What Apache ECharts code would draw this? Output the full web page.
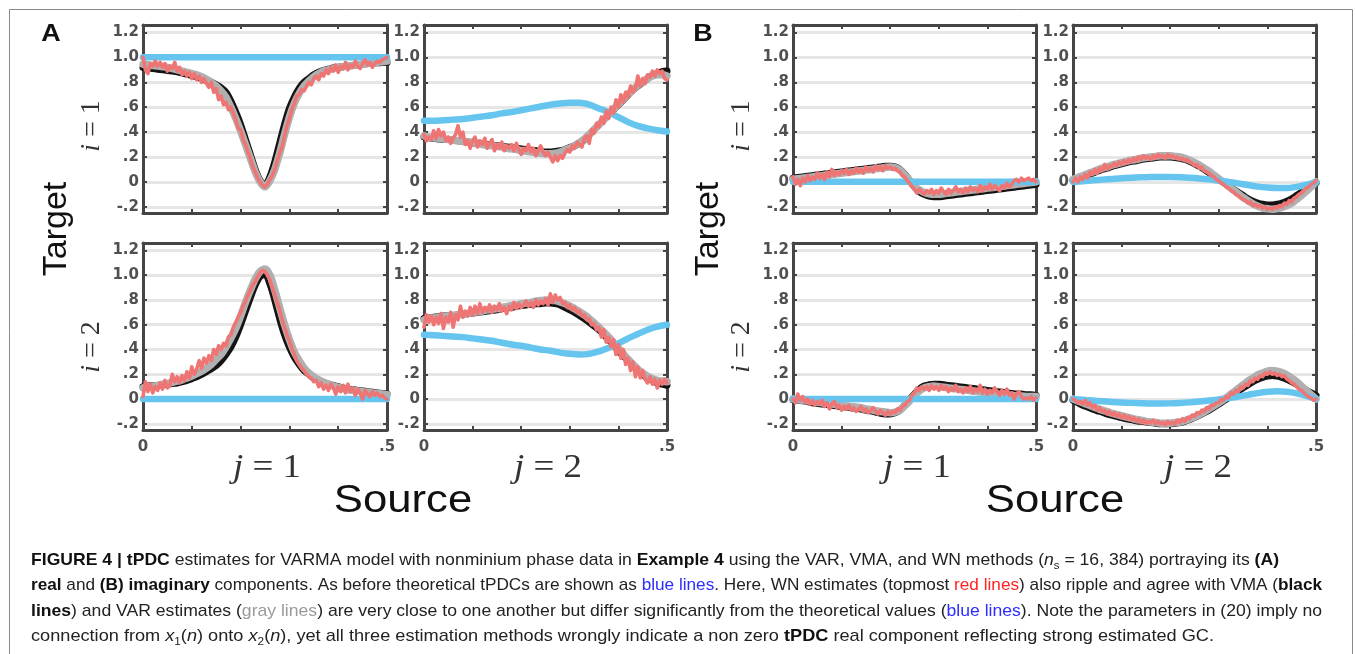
<!DOCTYPE html>
<html><head><meta charset="utf-8">
<script src="https://cdn.jsdelivr.net/npm/echarts@6/dist/echarts.min.js"></script>
<style>html,body{margin:0;padding:0;background:#fff}#c{width:1355px;height:654px}</style>
</head><body><div id="c"></div>
<script>
// ---------- sampling steps of the frequency grid (0 .. 0.5) ----------
const BLUE_STEP = 0.02, SMOOTH_STEP = 0.01, RED_STEP = 0.005;
// ---------- tick labels ----------
const X_LABELS = [0, 0.5];
const Y_TICKS = [-0.2, 0, 0.2, 0.4, 0.6, 0.8, 1.0, 1.2];

// ---------- Panel A (real), i=1, j=1 ----------
const A11_blue = [1,1,1,1,1,1,1,1,1,1,1,1,1,1,1,1,1,1,1,1,1,1,1,1,1,1];
const A11_black = [0.92,0.915,0.91,0.905,0.9,0.895,0.89,0.885,0.875,0.865,
 0.855,0.845,0.83,0.815,0.8,0.78,0.755,0.72,0.65,0.56,
 0.46,0.34,0.22,0.1,0.01,-0.03,0.04,0.16,0.31,0.46,
 0.59,0.68,0.75,0.8,0.83,0.86,0.88,0.895,0.905,0.915,
 0.92,0.925,0.93,0.935,0.94,0.945,0.95,0.953,0.956,0.958,0.96];
const A11_gray = [0.945,0.94,0.935,0.93,0.925,0.92,0.91,0.9,0.89,0.88,
 0.87,0.86,0.845,0.825,0.8,0.77,0.73,0.68,0.6,0.51,
 0.41,0.3,0.19,0.08,0.0,-0.04,0.01,0.1,0.23,0.38,
 0.52,0.63,0.71,0.77,0.81,0.845,0.87,0.89,0.9,0.91,
 0.92,0.925,0.93,0.935,0.94,0.945,0.95,0.955,0.96,0.965,0.97];
const A11_red = [1.0,0.9,0.87,0.95,0.93,0.97,0.93,0.96,0.92,0.95,
 0.89,0.93,0.91,0.96,0.89,0.92,0.86,0.89,0.85,0.88,
 0.83,0.87,0.82,0.85,0.8,0.83,0.79,0.76,0.8,0.72,
 0.75,0.66,0.69,0.62,0.64,0.58,0.6,0.55,0.5,0.43,
 0.42,0.34,0.3,0.24,0.19,0.12,0.08,0.03,0.0,-0.03,
 -0.04,-0.02,0.02,0.05,0.1,0.17,0.23,0.28,0.37,0.45,
 0.51,0.58,0.63,0.69,0.7,0.74,0.73,0.77,0.8,0.78,
 0.83,0.85,0.82,0.87,0.85,0.9,0.87,0.92,0.89,0.94,
 0.88,0.93,0.91,0.96,0.9,0.94,0.92,0.97,0.93,0.91,
 0.95,0.98,0.94,0.96,0.92,0.95,0.97,0.96,0.98,0.99,1.0];

// ---------- Panel A, i=1, j=2 ----------
const A12_blue = [0.49,0.49,0.495,0.5,0.505,0.515,0.525,0.535,0.55,0.56,
 0.575,0.59,0.605,0.62,0.63,0.635,0.635,0.62,0.59,0.56,
 0.52,0.48,0.45,0.43,0.415,0.405];
const A12_black = [0.36,0.355,0.35,0.345,0.34,0.34,0.335,0.33,0.325,0.32,
 0.315,0.31,0.305,0.3,0.295,0.29,0.285,0.28,0.275,0.27,
 0.265,0.26,0.255,0.25,0.245,0.24,0.24,0.245,0.25,0.26,
 0.275,0.29,0.31,0.34,0.38,0.42,0.46,0.5,0.54,0.58,
 0.62,0.66,0.7,0.74,0.77,0.8,0.83,0.855,0.87,0.885,0.89];
const A12_gray = [0.37,0.36,0.355,0.35,0.345,0.34,0.335,0.33,0.325,0.32,
 0.315,0.31,0.3,0.295,0.29,0.285,0.28,0.27,0.265,0.26,
 0.25,0.245,0.24,0.235,0.23,0.225,0.225,0.23,0.24,0.255,
 0.27,0.29,0.315,0.345,0.38,0.42,0.46,0.5,0.54,0.585,
 0.625,0.665,0.705,0.74,0.775,0.805,0.83,0.85,0.86,0.86,0.85];
const A12_red = [0.38,0.33,0.36,0.34,0.41,0.35,0.42,0.37,0.4,0.33,
 0.36,0.31,0.35,0.38,0.45,0.36,0.4,0.3,0.33,0.27,
 0.33,0.36,0.28,0.33,0.3,0.35,0.27,0.31,0.34,0.25,
 0.3,0.27,0.32,0.25,0.29,0.27,0.3,0.25,0.31,0.26,
 0.22,0.27,0.25,0.3,0.24,0.27,0.21,0.25,0.29,0.24,
 0.21,0.24,0.2,0.16,0.21,0.17,0.21,0.19,0.23,0.26,
 0.24,0.29,0.27,0.32,0.3,0.28,0.35,0.37,0.31,0.42,
 0.39,0.47,0.44,0.52,0.47,0.57,0.51,0.6,0.55,0.66,
 0.6,0.7,0.64,0.72,0.68,0.77,0.72,0.75,0.85,0.77,
 0.83,0.79,0.86,0.84,0.89,0.85,0.9,0.87,0.89,0.83,0.82];

// ---------- Panel A, i=2, j=1 ----------
const A21_blue = [0,0,0,0,0,0,0,0,0,0,0,0,0,0,0,0,0,0,0,0,0,0,0,0,0,0];
const A21_black = [0.1,0.105,0.11,0.11,0.115,0.12,0.125,0.13,0.14,0.15,
 0.165,0.18,0.2,0.22,0.245,0.27,0.31,0.36,0.42,0.5,
 0.6,0.71,0.82,0.92,0.99,1.01,0.93,0.8,0.65,0.52,
 0.42,0.34,0.28,0.23,0.2,0.17,0.15,0.135,0.12,0.11,
 0.1,0.09,0.08,0.075,0.07,0.065,0.06,0.055,0.05,0.045,0.04];
const A21_gray = [0.09,0.1,0.105,0.11,0.12,0.125,0.135,0.145,0.155,0.17,
 0.185,0.205,0.225,0.25,0.28,0.32,0.36,0.42,0.49,0.57,
 0.67,0.78,0.88,0.97,1.03,1.05,1.0,0.88,0.74,0.6,
 0.48,0.38,0.31,0.25,0.21,0.18,0.155,0.135,0.12,0.105,
 0.095,0.085,0.075,0.07,0.065,0.06,0.055,0.05,0.045,0.04,0.035];
const A21_red = [0.02,0.14,0.06,0.12,0.05,0.1,0.07,0.13,0.08,0.15,
 0.09,0.11,0.2,0.14,0.18,0.13,0.19,0.15,0.22,0.17,
 0.26,0.2,0.24,0.31,0.25,0.33,0.29,0.35,0.31,0.4,
 0.36,0.43,0.4,0.45,0.43,0.5,0.52,0.58,0.62,0.66,
 0.7,0.75,0.79,0.84,0.88,0.92,0.95,0.99,1.02,1.04,
 1.03,1.0,0.96,0.9,0.84,0.78,0.72,0.64,0.58,0.52,
 0.47,0.41,0.36,0.31,0.28,0.25,0.23,0.2,0.18,0.17,
 0.14,0.15,0.1,0.13,0.08,0.11,0.07,0.12,0.09,0.04,
 0.1,0.06,0.11,0.05,0.12,0.06,0.09,0.03,0.08,0.05,
 0.0,0.07,0.04,0.02,0.06,0.03,0.05,0.02,0.03,0.01,0.0];

// ---------- Panel A, i=2, j=2 ----------
const A22_blue = [0.52,0.515,0.51,0.505,0.5,0.49,0.48,0.47,0.455,0.44,
 0.43,0.415,0.4,0.39,0.375,0.365,0.36,0.365,0.385,0.415,
 0.45,0.49,0.525,0.56,0.585,0.6];
const A22_black = [0.65,0.655,0.66,0.665,0.67,0.67,0.675,0.68,0.685,0.69,
 0.695,0.7,0.705,0.71,0.715,0.72,0.73,0.735,0.74,0.75,
 0.755,0.76,0.765,0.77,0.77,0.775,0.775,0.77,0.76,0.74,
 0.72,0.7,0.675,0.65,0.62,0.59,0.56,0.52,0.48,0.44,
 0.39,0.35,0.31,0.27,0.23,0.2,0.17,0.15,0.13,0.12,0.11];
const A22_gray = [0.64,0.65,0.655,0.66,0.665,0.67,0.675,0.68,0.685,0.69,
 0.7,0.705,0.71,0.72,0.725,0.73,0.74,0.745,0.755,0.76,
 0.77,0.775,0.78,0.79,0.795,0.8,0.8,0.795,0.785,0.77,
 0.75,0.73,0.705,0.68,0.65,0.615,0.58,0.54,0.5,0.455,
 0.41,0.365,0.32,0.28,0.24,0.21,0.185,0.165,0.15,0.145,0.14];
const A22_red = [0.58,0.68,0.62,0.67,0.6,0.66,0.61,0.69,0.57,0.66,
 0.62,0.7,0.58,0.68,0.64,0.75,0.66,0.71,0.67,0.74,
 0.68,0.75,0.69,0.77,0.7,0.74,0.71,0.76,0.7,0.75,
 0.72,0.77,0.71,0.74,0.69,0.75,0.72,0.78,0.73,0.77,
 0.74,0.76,0.79,0.75,0.78,0.74,0.8,0.76,0.79,0.77,
 0.81,0.76,0.85,0.78,0.84,0.8,0.82,0.77,0.78,0.74,
 0.76,0.72,0.74,0.7,0.71,0.67,0.68,0.64,0.65,0.6,
 0.61,0.56,0.58,0.5,0.56,0.46,0.5,0.42,0.48,0.36,
 0.44,0.33,0.4,0.28,0.33,0.23,0.3,0.18,0.26,0.17,
 0.23,0.16,0.13,0.18,0.12,0.16,0.09,0.15,0.12,0.16,0.13];

// ---------- Panel B (imaginary), i=1, j=1 ----------
const B11_blue = [0,0,0,0,0,0,0,0,0,0,0,0,0,0,0,0,0,0,0,0,0,0,0,0,0,0];
const B11_black = [0.03,0.035,0.04,0.045,0.05,0.055,0.06,0.065,0.07,0.075,
 0.08,0.085,0.09,0.095,0.1,0.105,0.11,0.115,0.12,0.125,
 0.125,0.12,0.1,0.06,0.01,-0.04,-0.08,-0.1,-0.115,-0.12,
 -0.12,-0.115,-0.11,-0.105,-0.1,-0.095,-0.09,-0.085,-0.08,-0.075,
 -0.07,-0.065,-0.06,-0.055,-0.05,-0.045,-0.04,-0.035,-0.03,-0.025,-0.02];
const B11_gray = [0.02,0.025,0.03,0.035,0.04,0.045,0.05,0.055,0.06,0.065,
 0.07,0.075,0.08,0.085,0.09,0.095,0.1,0.105,0.11,0.115,
 0.12,0.115,0.095,0.055,0.01,-0.035,-0.065,-0.085,-0.095,-0.1,
 -0.1,-0.095,-0.09,-0.085,-0.08,-0.075,-0.07,-0.065,-0.06,-0.055,
 -0.05,-0.045,-0.04,-0.035,-0.03,-0.025,-0.02,-0.015,-0.01,-0.005,0.0];
const B11_red = [0.04,-0.02,0.02,-0.03,0.03,0.0,0.05,0.01,0.04,0.02,
 0.07,0.03,0.06,0.02,0.08,0.04,0.1,0.05,0.08,0.06,
 0.09,0.07,0.1,0.06,0.09,0.07,0.11,0.08,0.1,0.07,
 0.12,0.09,0.11,0.08,0.13,0.1,0.12,0.09,0.13,0.11,
 0.12,0.1,0.11,0.09,0.08,0.05,0.04,0.01,-0.01,-0.04,
 -0.06,-0.09,-0.06,-0.08,-0.1,-0.07,-0.09,-0.06,-0.1,-0.07,
 -0.09,-0.05,-0.08,-0.1,-0.06,-0.09,-0.07,-0.04,-0.08,-0.06,
 -0.09,-0.05,-0.08,-0.04,-0.07,-0.05,-0.08,-0.03,-0.07,-0.04,
 -0.06,-0.02,-0.06,-0.03,-0.05,-0.07,-0.03,-0.05,-0.01,-0.04,
 -0.02,0.01,0.02,0.0,0.03,0.01,0.02,0.03,0.01,0.02,0.0];

// ---------- Panel B, i=1, j=2 ----------
const B12_blue = [0.0,0.005,0.012,0.018,0.024,0.03,0.034,0.037,0.039,0.04,
 0.04,0.038,0.034,0.028,0.02,0.01,0.0,-0.012,-0.025,-0.038,
 -0.046,-0.05,-0.05,-0.04,-0.025,0.0];
const B12_black = [0.01,0.025,0.04,0.055,0.07,0.085,0.1,0.11,0.125,0.135,
 0.145,0.155,0.165,0.17,0.18,0.185,0.19,0.195,0.2,0.2,
 0.2,0.195,0.19,0.18,0.165,0.145,0.125,0.1,0.075,0.05,
 0.02,-0.005,-0.03,-0.06,-0.085,-0.11,-0.135,-0.155,-0.17,-0.18,
 -0.185,-0.185,-0.18,-0.17,-0.155,-0.135,-0.11,-0.085,-0.06,-0.035,-0.01];
const B12_gray = [0.02,0.035,0.05,0.065,0.08,0.095,0.11,0.12,0.135,0.145,
 0.155,0.165,0.175,0.18,0.19,0.195,0.2,0.205,0.21,0.21,
 0.21,0.205,0.2,0.19,0.175,0.155,0.135,0.11,0.085,0.055,
 0.025,-0.005,-0.035,-0.065,-0.095,-0.125,-0.15,-0.175,-0.195,-0.21,
 -0.215,-0.22,-0.215,-0.205,-0.19,-0.17,-0.14,-0.11,-0.075,-0.04,0.0];
const B12_red = [0.0,0.03,0.0,0.04,0.02,0.06,0.03,0.08,0.06,0.1,
 0.07,0.11,0.09,0.14,0.1,0.13,0.12,0.15,0.13,0.16,
 0.14,0.17,0.15,0.18,0.16,0.19,0.17,0.2,0.18,0.21,
 0.19,0.2,0.18,0.21,0.19,0.22,0.2,0.21,0.19,0.22,
 0.2,0.21,0.19,0.2,0.18,0.19,0.17,0.18,0.16,0.15,
 0.13,0.14,0.11,0.12,0.09,0.08,0.07,0.05,0.04,0.02,
 0.01,-0.01,-0.02,-0.04,-0.05,-0.07,-0.08,-0.1,-0.11,-0.13,
 -0.14,-0.15,-0.17,-0.16,-0.19,-0.18,-0.2,-0.19,-0.21,-0.2,
 -0.22,-0.21,-0.22,-0.2,-0.21,-0.19,-0.2,-0.17,-0.18,-0.15,
 -0.16,-0.13,-0.12,-0.1,-0.09,-0.07,-0.05,-0.04,-0.02,-0.01,0.01];

// ---------- Panel B, i=2, j=1 ----------
const B21_blue = [0,0,0,0,0,0,0,0,0,0,0,0,0,0,0,0,0,0,0,0,0,0,0,0,0,0];
const B21_black = [-0.005,-0.01,-0.015,-0.02,-0.03,-0.035,-0.04,-0.045,-0.05,-0.055,
 -0.06,-0.065,-0.07,-0.075,-0.08,-0.09,-0.095,-0.105,-0.115,-0.12,
 -0.12,-0.11,-0.09,-0.05,-0.005,0.04,0.08,0.105,0.115,0.12,
 0.12,0.115,0.11,0.105,0.1,0.095,0.09,0.085,0.08,0.075,
 0.07,0.065,0.06,0.055,0.05,0.045,0.04,0.04,0.035,0.035,0.03];
const B21_gray = [0.0,-0.005,-0.01,-0.015,-0.02,-0.025,-0.03,-0.035,-0.04,-0.045,
 -0.05,-0.055,-0.06,-0.065,-0.07,-0.08,-0.085,-0.095,-0.1,-0.105,
 -0.11,-0.105,-0.09,-0.055,-0.015,0.03,0.065,0.09,0.1,0.105,
 0.1,0.095,0.09,0.085,0.08,0.075,0.07,0.065,0.06,0.055,
 0.05,0.045,0.04,0.035,0.03,0.03,0.025,0.025,0.02,0.02,0.02];
const B21_red = [0.0,-0.03,0.04,-0.01,0.02,-0.03,0.0,-0.04,-0.01,-0.05,
 -0.02,-0.04,-0.01,-0.06,-0.03,-0.08,-0.04,-0.02,-0.07,-0.05,
 -0.09,-0.06,-0.08,-0.05,-0.09,-0.07,-0.1,-0.08,-0.06,-0.1,
 -0.08,-0.11,-0.09,-0.07,-0.1,-0.12,-0.09,-0.11,-0.13,-0.1,
 -0.12,-0.1,-0.11,-0.08,-0.09,-0.06,-0.05,-0.02,-0.01,0.03,
 0.05,0.09,0.07,0.1,0.08,0.1,0.07,0.11,0.08,0.1,
 0.07,0.11,0.08,0.1,0.06,0.09,0.07,0.11,0.06,0.08,
 0.05,0.09,0.06,0.1,0.05,0.08,0.06,0.11,0.05,0.08,
 0.04,0.07,0.05,0.09,0.06,0.03,0.07,0.04,0.08,0.03,
 0.05,0.0,0.04,0.06,0.02,0.0,0.01,0.0,0.02,-0.01,0.01];

// ---------- Panel B, i=2, j=2 ----------
const B22_blue = [0.0,-0.006,-0.012,-0.018,-0.023,-0.027,-0.031,-0.034,-0.036,-0.036,
 -0.035,-0.032,-0.027,-0.02,-0.012,-0.003,0.008,0.02,0.034,0.048,
 0.058,0.062,0.058,0.046,0.026,0.0];
const B22_black = [-0.01,-0.03,-0.05,-0.065,-0.08,-0.095,-0.105,-0.12,-0.13,-0.14,
 -0.15,-0.16,-0.165,-0.175,-0.18,-0.185,-0.19,-0.195,-0.2,-0.2,
 -0.2,-0.195,-0.19,-0.18,-0.165,-0.15,-0.13,-0.11,-0.09,-0.065,
 -0.04,-0.015,0.01,0.035,0.065,0.09,0.115,0.14,0.16,0.175,
 0.185,0.19,0.185,0.175,0.16,0.14,0.12,0.095,0.07,0.05,0.03];
const B22_gray = [0.0,-0.015,-0.03,-0.045,-0.06,-0.075,-0.09,-0.1,-0.115,-0.125,
 -0.135,-0.145,-0.155,-0.165,-0.17,-0.18,-0.185,-0.19,-0.195,-0.195,
 -0.195,-0.19,-0.185,-0.175,-0.16,-0.145,-0.125,-0.105,-0.08,-0.055,
 -0.03,-0.005,0.025,0.055,0.085,0.115,0.145,0.17,0.195,0.21,
 0.225,0.23,0.225,0.215,0.195,0.17,0.14,0.105,0.07,0.035,0.0];
const B22_red = [0.0,-0.01,-0.03,-0.02,-0.04,-0.01,-0.05,-0.03,-0.07,-0.05,
 -0.09,-0.07,-0.1,-0.09,-0.12,-0.1,-0.13,-0.11,-0.14,-0.12,
 -0.15,-0.13,-0.16,-0.14,-0.17,-0.15,-0.18,-0.16,-0.19,-0.17,
 -0.2,-0.18,-0.19,-0.17,-0.2,-0.18,-0.2,-0.19,-0.21,-0.18,
 -0.2,-0.19,-0.2,-0.17,-0.19,-0.16,-0.18,-0.15,-0.16,-0.13,
 -0.14,-0.11,-0.12,-0.09,-0.1,-0.07,-0.08,-0.05,-0.05,-0.03,
 -0.03,0.0,-0.01,0.02,0.01,0.05,0.04,0.07,0.06,0.1,
 0.09,0.12,0.11,0.15,0.14,0.17,0.16,0.19,0.18,0.21,
 0.2,0.22,0.2,0.21,0.19,0.2,0.18,0.19,0.16,0.15,
 0.13,0.12,0.1,0.08,0.07,0.05,0.03,0.02,0.01,-0.01,0.0];

// ---------- caption text ----------
const CAPTION = [
 [['b','FIGURE 4 | tPDC'],['n',' estimates for VARMA model with nonminium phase data in '],['b','Example 4'],['n',' using the VAR, VMA, and WN methods ('],['i','n'],['s','s'],['n',' = 16, 384) portraying its '],['b','(A)']],
 [['b','real'],['n',' and '],['b','(B) imaginary'],['n',' components. As before theoretical tPDCs are shown as '],['bl','blue lines'],['n','. Here, WN estimates (topmost '],['rd','red lines'],['n',') also ripple and agree with VMA ('],['b','black']],
 [['b','lines'],['n',') and VAR estimates ('],['gr','gray lines'],['n',') are very close to one another but differ significantly from the theoretical values ('],['bl','blue lines'],['n','). Note the parameters in (20) imply no']],
 [['n','connection from '],['i','x'],['s','1'],['n','('],['i','n'],['n',') onto '],['i','x'],['s','2'],['n','('],['i','n'],['n','), yet all three estimation methods wrongly indicate a non zero '],['b','tPDC'],['n',' real component reflecting strong estimated GC.']]
];

// ================= layout / styling =================
const COL = {blue:'#66c5ee', black:'#141414', gray:'#b0b0b0', red:'#ef7575'};
const AX = '#454545';
const TICK_FONT = {fontFamily:'DejaVu Sans', fontWeight:'bold', fontSize:15, color:'#505050'};
const panels = [
 {left:143, top:25, w:244, h:188, bottom:false, d:[A11_blue,A11_black,A11_gray,A11_red]},
 {left:424, top:25, w:243, h:188, bottom:false, d:[A12_blue,A12_black,A12_gray,A12_red]},
 {left:143, top:243, w:244, h:187, bottom:true, d:[A21_blue,A21_black,A21_gray,A21_red]},
 {left:424, top:243, w:243, h:187, bottom:true, d:[A22_blue,A22_black,A22_gray,A22_red]},
 {left:793, top:25, w:243, h:188, bottom:false, d:[B11_blue,B11_black,B11_gray,B11_red]},
 {left:1073, top:25, w:243, h:188, bottom:false, d:[B12_blue,B12_black,B12_gray,B12_red]},
 {left:793, top:243, w:243, h:187, bottom:true, d:[B21_blue,B21_black,B21_gray,B21_red]},
 {left:1073, top:243, w:243, h:187, bottom:true, d:[B22_blue,B22_black,B22_gray,B22_red]}
];
function pairs(vals, step){ return vals.map((v,i)=>[+(i*step).toFixed(4), v]); }
function fmtY(v){ if (Math.abs(v) < 1e-9) return '0'; return Number(v).toFixed(1).replace(/^(-?)0\./,'$1.'); }
function fmtX(v){ return Math.abs(v) < 1e-9 ? '0' : String(v).replace(/^0\./,'.'); }

const grid=[], xAxis=[], yAxis=[], series=[];
panels.forEach((p,k)=>{
  grid.push({left:p.left, top:p.top, width:p.w, height:p.h});
  const axLine = {show:true, onZero:false, lineStyle:{color:AX, width:3}};
  const tick = {show:true, inside:true, length:4, lineStyle:{color:AX, width:2}};
  xAxis.push({type:'value', gridIndex:k, min:0, max:0.5, interval:0.1, position:'bottom',
    axisLine:axLine, axisTick:tick, splitLine:{show:false},
    axisLabel:Object.assign({show:p.bottom, customValues:X_LABELS, formatter:fmtX, margin:10}, TICK_FONT)});
  xAxis.push({type:'value', gridIndex:k, min:0, max:0.5, interval:0.1, position:'top',
    axisLine:axLine, axisTick:tick, splitLine:{show:false}, axisLabel:{show:false}});
  yAxis.push({type:'value', gridIndex:k, min:-0.25, max:1.26, position:'left',
    axisLine:axLine, axisTick:Object.assign({customValues:Y_TICKS}, tick),
    splitLine:{show:true, lineStyle:{color:'#e6e6e6', width:2.8}},
    axisLabel:Object.assign({customValues:Y_TICKS, formatter:fmtY, margin:4}, TICK_FONT)});
  yAxis.push({type:'value', gridIndex:k, min:-0.25, max:1.26, position:'right',
    axisLine:axLine, axisTick:Object.assign({customValues:Y_TICKS}, tick),
    splitLine:{show:false}, axisLabel:{show:false}});
  const base = {type:'line', xAxisIndex:2*k, yAxisIndex:2*k, showSymbol:false, symbol:'none', silent:true, animation:false};
  series.push(Object.assign({}, base, {name:'VMA', z:2, smooth:0.3, data:pairs(p.d[1], SMOOTH_STEP), lineStyle:{color:COL.black, width:7, cap:'round', join:'round'}}));
  series.push(Object.assign({}, base, {name:'VAR', z:3, smooth:0.3, data:pairs(p.d[2], SMOOTH_STEP), lineStyle:{color:COL.gray, width:7.5, cap:'round', join:'round'}}));
  series.push(Object.assign({}, base, {name:'theory', z:4, smooth:0.3, data:pairs(p.d[0], BLUE_STEP), lineStyle:{color:COL.blue, width:6.5, cap:'round', join:'round'}}));
  series.push(Object.assign({}, base, {name:'WN', z:5, smooth:false, data:pairs(p.d[3], RED_STEP), lineStyle:{color:COL.red, width:3.6, cap:'round', join:'round'}}));
});

// ---------- text elements ----------
const SANS = "'Liberation Sans', Arial, Helvetica, sans-serif";
const SERIF = "'Liberation Serif', 'Times New Roman', serif";
const STRETCH = 1.12;
const graphic = [];
graphic.push({type:'rect', silent:true, shape:{x:9.5, y:9.5, width:1343, height:700}, style:{fill:'none', stroke:'#8a8a8a', lineWidth:1}});
function txt(x,y,text,font,opts){ return Object.assign({type:'text', x:x, y:y, silent:true, style:{text:text, font:font, fill:'#111', textAlign:'center', textVerticalAlign:'middle'}}, opts||{}); }
[['A',0],['B',652]].forEach(([lab,dx])=>{
  graphic.push(txt(51+dx, 34, lab, 'bold 24px '+SANS, {scaleX:STRETCH}));
  graphic.push(txt(57+dx, 229, 'Target', '34px '+SANS, {rotation:Math.PI/2}));
  graphic.push(txt(403+dx, 501, 'Source', '39px '+SANS, {scaleX:STRETCH}));
});
function mathLabel(x,y,v,n,size,rot){
  const rich = {
    v:{fontFamily:SERIF, fontStyle:'italic', fontSize:size, fill:'#333'},
    r:{fontFamily:SERIF, fontSize:size, fill:'#333'}
  };
  const o = {type:'text', x:x, y:y, silent:true,
    style:{text:'{v|'+v+'}{r| = '+n+'}', rich:rich, textAlign:'center', textVerticalAlign:'middle', fill:'#333'}};
  if (rot) o.rotation = Math.PI/2; else o.scaleX = STRETCH;
  return o;
}
[0,650].forEach(dx=>{
  graphic.push(mathLabel(92+dx, 126, 'i', '1', 28, true));
  graphic.push(mathLabel(92+dx, 347, 'i', '2', 28, true));
  graphic.push(mathLabel(267+dx, 468, 'j', '1', 33, false));
  graphic.push(mathLabel(548+dx, 468, 'j', '2', 33, false));
});

// caption
const CAP_SIZE = 17;
const CAP_STYLES = {
  n:{fontFamily:SANS, fontSize:CAP_SIZE, fill:'#222', lineHeight:22},
  b:{fontFamily:SANS, fontSize:CAP_SIZE, fill:'#111', fontWeight:'bold', lineHeight:22},
  i:{fontFamily:SANS, fontSize:CAP_SIZE, fill:'#222', fontStyle:'italic', lineHeight:22},
  s:{fontFamily:SANS, fontSize:11, fill:'#222', lineHeight:13, verticalAlign:'bottom'},
  bl:{fontFamily:SANS, fontSize:CAP_SIZE, fill:'#2d2dff', lineHeight:22},
  rd:{fontFamily:SANS, fontSize:CAP_SIZE, fill:'#ff2323', lineHeight:22},
  gr:{fontFamily:SANS, fontSize:CAP_SIZE, fill:'#9a9a9a', lineHeight:22}
};
const CAP_FONT = {n:CAP_SIZE+'px '+SANS, b:'bold '+CAP_SIZE+'px '+SANS, i:'italic '+CAP_SIZE+'px '+SANS, s:'11px '+SANS, bl:CAP_SIZE+'px '+SANS, rd:CAP_SIZE+'px '+SANS, gr:CAP_SIZE+'px '+SANS};
const CAP_LEFT = 31, CAP_RIGHT = [1279, 1322, 1322, 1214], CAP_Y = [560, 585.5, 611, 636.5];
const mctx = document.createElement('canvas').getContext('2d');
CAPTION.forEach((line, li)=>{
  let w = 0;
  line.forEach(([s,t])=>{ mctx.font = CAP_FONT[s]; w += mctx.measureText(t).width; });
  const sx = (CAP_RIGHT[li]-CAP_LEFT)/w;
  graphic.push({type:'text', x:CAP_LEFT, y:CAP_Y[li], scaleX:sx, silent:true,
    style:{text: line.map(([s,t])=>'{'+s+'|'+t+'}').join(''), rich:CAP_STYLES, fill:'#222', textAlign:'left', textVerticalAlign:'middle'}});
});

const chart = echarts.init(document.getElementById('c'), null, {renderer:'canvas'});
chart.setOption({animation:false, backgroundColor:'#fff', grid, xAxis, yAxis, series, graphic});
</script></body></html>
